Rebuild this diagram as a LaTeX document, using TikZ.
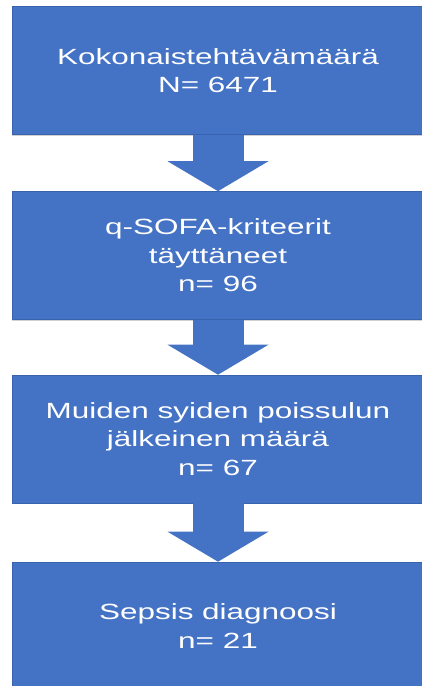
\documentclass[tikz,border=0pt]{standalone}
\usepackage{fontspec}
\setmainfont{Liberation Sans}
\newfontfamily\boxfont[FakeStretch=1.43]{Liberation Sans}
\usetikzlibrary{arrows.meta, positioning, shadows}
\definecolor{officeblue}{HTML}{4472C4}
\definecolor{officeedge}{HTML}{3A63AD}

\begin{document}
\begin{tikzpicture}[
  x=1pt, y=1pt,
  stage/.style={rectangle, draw=officeedge, line width=0.6pt, fill=officeblue, text=white, minimum width=411pt, minimum height=128pt, inner sep=0pt, align=center, font=\boxfont\fontsize{22}{28.5}\selectfont, drop shadow={shadow xshift=-0.8pt, shadow yshift=-1.2pt, fill=black!30, opacity=0.6}},
  flow/.style={officeblue, line width=51pt, -{Triangle[width=101pt, length=30pt, line width=0pt]}}
]
\useasboundingbox (0,0) rectangle (422,686);
\clip (0,0) rectangle (422,686);

% Stages
\node[stage] (total) at (218,615.5) {Kokonaistehtävämäärä\\N= 6471};
\node[stage] (qsofa) at (218,430.5) {q-SOFA-kriteerit\\täyttäneet\\n= 96};
\node[stage] (excl) at (218,247) {Muiden syiden poissulun\\jälkeinen määrä\\n= 67};
\node[stage] (sepsis) at (218,60) {Sepsis diagnoosi\\n= 21};

% Block arrows
\draw[flow] (total.south) -- (qsofa.north);
\draw[flow] (qsofa.south) -- (excl.north);
\draw[flow] (excl.south) -- (sepsis.north);

\end{tikzpicture}
\end{document}
